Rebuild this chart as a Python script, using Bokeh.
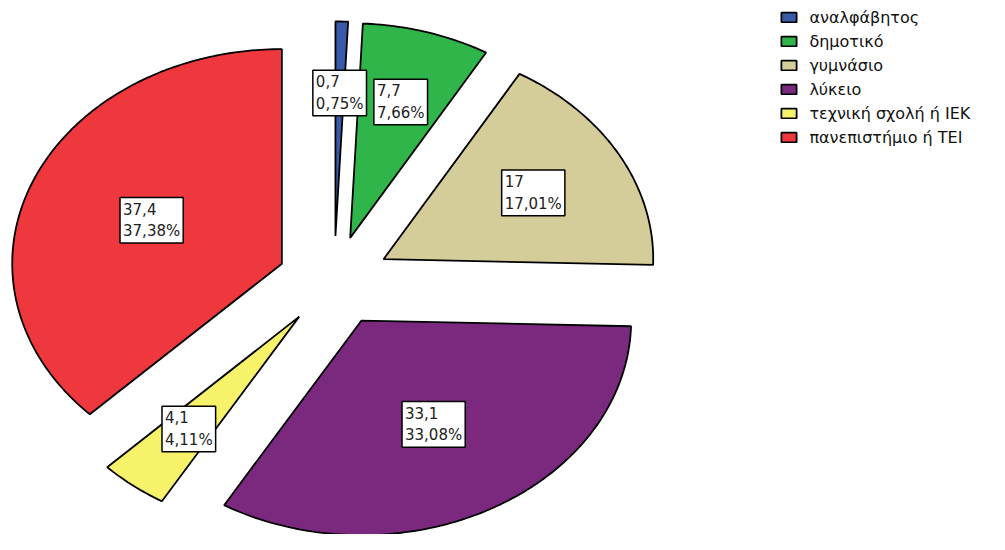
import numpy as np
from bokeh.plotting import figure
from bokeh.models import ColumnDataSource, Range1d, Legend, LegendItem
from bokeh.core.properties import value
from bokeh.embed import file_html
from bokeh.resources import INLINE

# ---- data -------------------------------------------------------------
categories = ["αναλφάβητος", "δημοτικό", "γυμνάσιο", "λύκειο",
              "τεχνική σχολή ή ΙΕΚ", "πανεπιστήμιο ή ΤΕΙ"]
values = [0.7, 7.7, 17.0, 33.1, 4.1, 37.4]
percents = [0.75, 7.66, 17.01, 33.08, 4.11, 37.38]
colors = ["#3a5aa9", "#2fb54a", "#d5cd99", "#7b287f", "#f6f36b", "#ef373e"]

# ---- layout constants -------------------------------------------------
W, H = 989, 534
SX, SY = W / 1005, H / 550   # scale from reference canvas to plot
CX, CY = 339 * SX, 289 * SY  # pie centre in px (from top-left)
RX, RY = 274 * SX, 221 * SY  # pie radii in px (elliptical pie)
EXPLODE = 0.21               # explode distance as fraction of radius

p = figure(width=W, height=H, output_backend="svg", toolbar_location=None,
           x_range=Range1d(-CX / RX, (W - CX) / RX),
           y_range=Range1d(-(H - CY) / RY, CY / RY),
           x_axis_location=None, y_axis_location=None,
           min_border=0, outline_line_color=None)
p.grid.visible = False

pct = np.array(percents, dtype=float)
frac = pct / pct.sum()
ends = 2 * np.pi * np.cumsum(frac)
starts = ends - 2 * np.pi * frac
mids = (starts + ends) / 2

xs, ys, lx, ly, texts = [], [], [], [], []
for s, e, m, v, pc in zip(starts, ends, mids, values, percents):
    ox, oy = EXPLODE * np.sin(m), EXPLODE * np.cos(m)
    n = max(4, int((e - s) / (2 * np.pi) * 400))
    t = np.linspace(s, e, n)
    xs.append(np.concatenate([[ox], ox + np.sin(t)]).tolist())
    ys.append(np.concatenate([[oy], oy + np.cos(t)]).tolist())
    half = (e - s) / 2
    rc = 2 * np.sin(half) / (3 * half)
    lx.append(ox + rc * np.sin(m))
    ly.append(oy + rc * np.cos(m))
    vtxt = f"{v:g}".replace(".", ",")
    ptxt = f"{pc:.2f}".replace(".", ",") + "%"
    texts.append(vtxt + "\n" + ptxt)

src = ColumnDataSource(dict(xs=xs, ys=ys, color=colors, cat=categories))
r = p.patches("xs", "ys", source=src, fill_color="color",
              line_color="black", line_width=1.8)

lsrc = ColumnDataSource(dict(x=lx, y=ly, text=texts))
p.text("x", "y", text="text", source=lsrc, text_align="left",
       text_baseline="middle", anchor="center",
       text_font=value("DejaVu Sans"), text_font_size="15px",
       text_color="#222222", text_line_height=1.2,
       padding=3, background_fill_color="white",
       border_line_color="black", border_line_width=1.5)

row_h = 25 * SY
legend = Legend(items=[LegendItem(label=c, renderers=[r], index=i)
                       for i, c in enumerate(categories)],
                location=(792 * SX, H - (19 * SY - row_h / 2) - 6 * row_h + 5),
                orientation="vertical",
                glyph_width=19, glyph_height=12, label_standoff=11,
                label_height=int(row_h) - 5, spacing=5, padding=0, margin=0,
                border_line_color=None, background_fill_alpha=0,
                label_text_font="DejaVu Sans", label_text_font_size="16px",
                label_text_color="#111111")
p.add_layout(legend)

open("out.html", "w").write(file_html(p, INLINE))
